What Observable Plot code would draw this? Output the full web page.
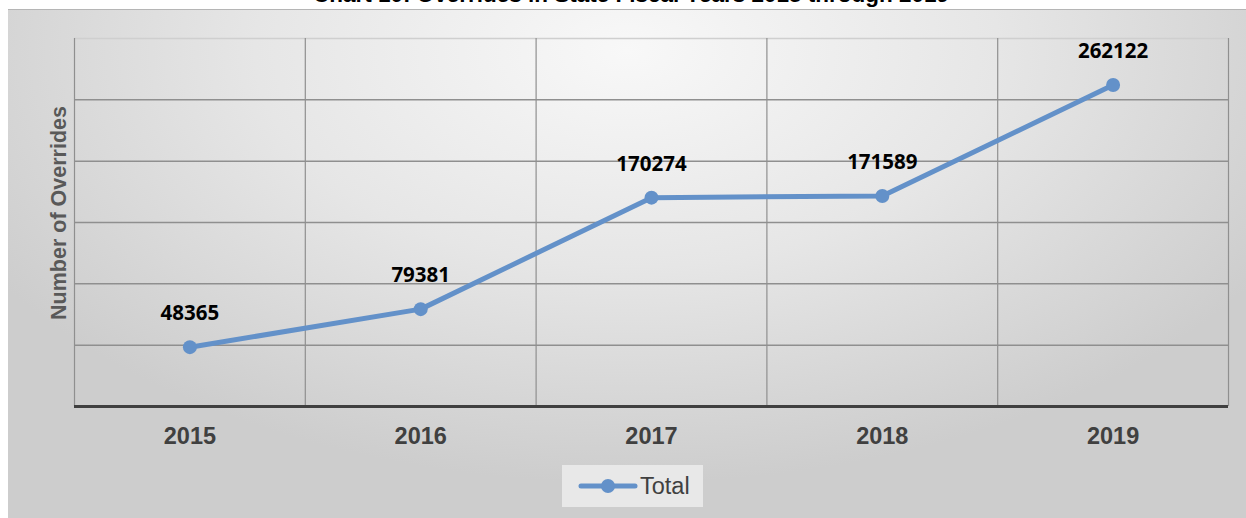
<!DOCTYPE html>
<html>
<head>
<meta charset="utf-8">
<script src="https://cdn.jsdelivr.net/npm/d3@7"></script>
<script src="https://cdn.jsdelivr.net/npm/@observablehq/plot@0.6"></script>
<style>
  html, body { margin: 0; padding: 0; background: #fff; width: 1246px; height: 518px; overflow: hidden; }
  #wrap { position: relative; width: 1246px; height: 518px; }
  #bg { position: absolute; left: 8px; top: 9px; width: 1238px; height: 509px;
        border-top: 1.5px solid #b5b5b5;
        background: radial-gradient(ellipse 60% 85% at 50% 8%, #f8f8f8 0%, #e6e6e6 50%, #cdcdcd 100%); }
  #title { position: absolute; left: 0; width: 1262px; top: -18px; text-align: center;
           font: bold 22.5px "Liberation Sans", Arial, sans-serif; color: #000; }
  #chart { position: absolute; left: 0; top: 0; }
  #legend { position: absolute; left: 562px; top: 465px; width: 141px; height: 42px;
            background: rgba(240,240,240,0.75); display: flex; align-items: center; }
  #legend span { font: 23.5px "Liberation Sans", Arial, sans-serif; color: #404040; margin-left: 2px; }
</style>
</head>
<body>
<div id="wrap">
  <div id="bg"></div>
  <div id="title">Chart 10: Overrides in State Fiscal Years 2015 through 2019</div>
  <div id="chart"></div>
  <div id="legend">
    <svg width="60" height="20" style="margin-left:16px"><line x1="3" y1="10" x2="57" y2="10" stroke="#6391c9" stroke-width="5" stroke-linecap="round"/><circle cx="30" cy="10" r="7" fill="#6391c9"/></svg>
    <span>Total</span>
  </div>
</div>
<script>
const years = [2015, 2016, 2017, 2018, 2019];
const totals = [48365, 79381, 170274, 171589, 262122];
const yTicks = [50000, 100000, 150000, 200000, 250000, 300000];
const yTitle = "Number of Overrides";
const seriesName = "Total";

const data = years.map((y, i) => ({year: y, value: totals[i]}));
const xBounds = [years[0] - 0.5, ...years.map(y => y + 0.5)];
const color = "#6391c9";

const chart = Plot.plot({
  width: 1246,
  height: 518,
  marginLeft: 74,
  marginRight: 18,
  marginTop: 38,
  marginBottom: 112,
  style: {background: "transparent", overflow: "visible"},
  x: {domain: [years[0] - 0.5, years[years.length - 1] + 0.5], axis: null},
  y: {domain: [0, 300000], axis: null},
  marks: [
    Plot.ruleY(yTicks, {stroke: d => d === 300000 ? "#cfcfcf" : "#8f8f8f", strokeWidth: 1.5}),
    Plot.ruleX(xBounds, {stroke: "#8f8f8f", strokeWidth: 1.2}),
    Plot.ruleY([0], {stroke: "#404040", strokeWidth: 3}),
    Plot.text(years, {x: d => d, frameAnchor: "bottom", dy: 37, text: d => String(d),
      fontSize: 23.5, fontWeight: "bold", fill: "#404040", fontFamily: "Liberation Sans, Arial, sans-serif", lineAnchor: "bottom"}),
    Plot.line(data, {x: "year", y: "value", stroke: color, strokeWidth: 5}),
    Plot.dot(data, {x: "year", y: "value", r: 7, fill: color}),
    Plot.text(data, {x: "year", y: "value", text: d => String(d.value), dy: -27, lineAnchor: "bottom",
      fontSize: 20.5, fontWeight: "bold", fill: "#000", fontFamily: "Open Sans, sans-serif"}),
    Plot.text([yTitle], {frameAnchor: "left", textAnchor: "middle", text: d => d, rotate: -90, dx: -9, dy: -9.5, lineAnchor: "bottom",
      fontSize: 21.5, fontWeight: "bold", fill: "#595959", fontFamily: "Liberation Sans, Arial, sans-serif"})
  ]
});
document.getElementById("chart").appendChild(chart);
</script>
</body>
</html>
